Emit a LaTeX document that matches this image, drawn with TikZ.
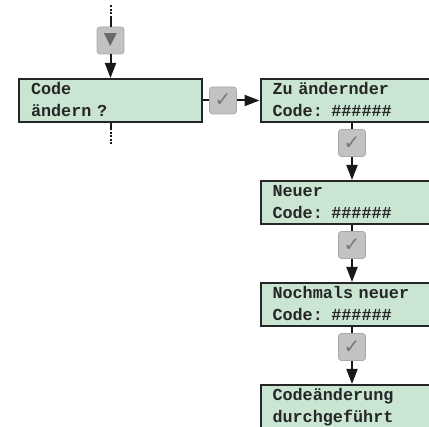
\documentclass[tikz,border=0pt]{standalone}
\usepackage{fontspec}
\setmonofont{Liberation Mono}
\newfontfamily\symfont{DejaVu Sans}
\usetikzlibrary{arrows.meta}
\definecolor{boxfill}{RGB}{202,230,211}
\definecolor{txtcol}{RGB}{38,38,38}
\definecolor{btnfill}{RGB}{194,194,194}
\definecolor{btnline}{RGB}{170,170,170}
\definecolor{glyph}{RGB}{120,120,120}
\definecolor{triglyph}{RGB}{105,105,105}
\newcommand{\topstrut}{\rule{0pt}{13.5pt}}
\newcommand{\botstrut}{\rule[-2.5pt]{0pt}{2.5pt}}
\begin{document}
\begin{tikzpicture}[x=1pt,y=-1pt,
  lcd/.style={draw=black!85, line width=2pt, fill=boxfill, minimum width=183pt, minimum height=43pt,
    inner xsep=12pt, inner ysep=0pt, text width=159pt, align=left,
    font=\fontsize{16.8}{22}\selectfont\ttfamily\bfseries, text=txtcol},
  btn/.style={draw=btnline, fill=btnfill, rounded corners=3pt, minimum size=27pt, inner sep=0pt,
    line width=0.8pt, font=\symfont\fontsize{20}{20}\selectfont, text=glyph},
  conn/.style={line width=2pt, draw=black!90},
  arr/.style={conn, -{Triangle[length=15pt, width=11pt]}},
  dots/.style={conn, dash pattern=on 2pt off 1.6pt}]
\path[use as bounding box] (0,0) rectangle (429,427);
\clip (0,0) rectangle (429,427);

% boxes
\node[lcd] (b1) at (110.5,100.5) {\topstrut Code\\ändern ?\botstrut};
\node[lcd] (b2) at (352,100.5) {\topstrut Zu ändernder\\Code: \#\#\#\#\#\#\botstrut};
\node[lcd] (b3) at (352,202.5) {\topstrut Neuer\\Code: \#\#\#\#\#\#\botstrut};
\node[lcd] (b4) at (352,304.5) {\topstrut Nochmals neuer\\Code: \#\#\#\#\#\#\botstrut};
\node[lcd] (b5) at (352,406.5) {\topstrut Codeänderung\\durchgeführt\botstrut};

% buttons
\node[btn, text=triglyph, font=\symfont\fontsize{17}{17}\selectfont] (d1) at (110.5,40.5) {▼};
\node[btn] (c1) at (223,100.5) {✓};
\node[btn] (c2) at (352,143) {✓};
\node[btn] (c3) at (352,245) {✓};
\node[btn] (c4) at (352,347) {✓};

% connectors
\coordinate (top) at (110.5,5);
\coordinate (topj) at (110.5,18);
\coordinate (botj) at (110.5,128);
\coordinate (bot) at (110.5,145);
\draw[dots] (top) -- (topj);
\draw[conn] (topj) -- (d1);
\draw[arr] (d1) -- (b1);
\draw[conn] (b1) -- (botj);
\draw[dots] (botj) -- (bot);
\draw[conn] (b1) -- (c1);
\draw[arr] (c1) -- (b2);
\draw[conn] (b2) -- (c2);
\draw[arr] (c2) -- (b3);
\draw[conn] (b3) -- (c3);
\draw[arr] (c3) -- (b4);
\draw[conn] (b4) -- (c4);
\draw[arr] (c4) -- (b5);
\end{tikzpicture}
\end{document}
